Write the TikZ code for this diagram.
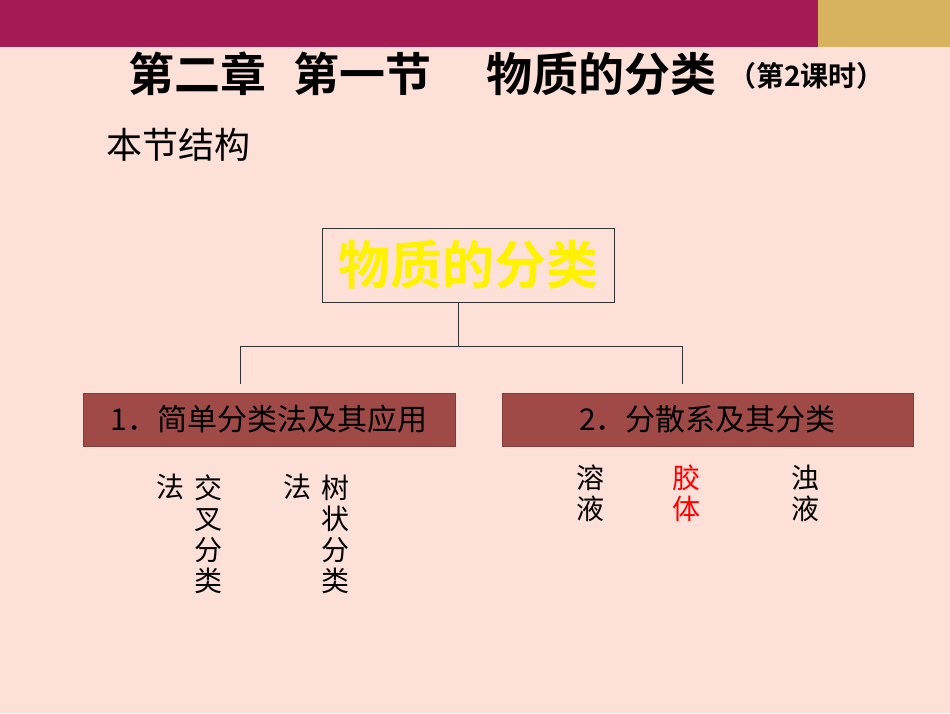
\documentclass[tikz,border=0pt]{standalone}
\usepackage{fontspec}
\newfontfamily\cjk{Noto Sans CJK SC}
\newfontfamily\cjkb{Noto Sans CJK SC Bold}
\definecolor{bg}{HTML}{FDE0D7}
\definecolor{mag}{HTML}{A61B53}
\definecolor{gold}{HTML}{D8B35F}
\definecolor{brn}{HTML}{A04A48}
\tikzset{ch/.style={font=\cjk\fontsize{28}{28}\selectfont,inner sep=0pt},
 cat/.style={fill=brn,draw=brn!80!black,minimum height=53pt,inner sep=0pt,font=\cjk\fontsize{30}{30}\selectfont},
 tt/.style={anchor=west,inner sep=0pt,font=\cjkb\fontsize{46}{46}\selectfont},
 conn/.style={draw=black!80,line width=0.8pt}}
\begin{document}
\begin{tikzpicture}[x=1pt,y=-1pt]
\fill[bg] (0,0) rectangle (950,713);
\useasboundingbox (0,0) rectangle (950,713);
\fill[mag] (0,0) rectangle (818,47);
\fill[gold] (818,0) rectangle (950,47);
\node[tt] (t) at (128,74) {第二章};
\node[tt] (tb) at (293,74) {第一节};
\node[tt] (tc) at (486,74) {物质的分类};
\node[anchor=west,inner sep=0pt,font=\cjkb\fontsize{28}{28}\selectfont] (t2) at (728,76) {（第2课时）};
\node[anchor=west,inner sep=0pt,font=\cjk\fontsize{36}{36}\selectfont] (s) at (106,145) {本节结构};
\node[draw=black!80,line width=0.8pt,minimum width=292pt,minimum height=74pt,inner sep=0pt,font=\cjkb\fontsize{52}{52}\selectfont,text=yellow] (root) at (468,265) {物质的分类};
\node[cat,minimum width=372pt] (a) at (269,419.5) {1．简单分类法及其应用};
\node[cat,minimum width=411pt] (b) at (707.5,419.5) {2．分散系及其分类};
\coordinate (m) at (458,346);
\coordinate (l) at (240,346);
\coordinate (r) at (682,346);
\draw[conn] (458,302) -- (m);
\draw[conn] (l) -- (r);
\draw[conn] (l) -- (240,384);
\draw[conn] (r) -- (682,384);
\node[ch] (f1) at (170,487) {法};
\node[ch,align=center] (c1) at (208,534) {交\\[3pt]叉\\[3pt]分\\[3pt]类};
\node[ch] (f2) at (297,487) {法};
\node[ch,align=center] (c2) at (335,534) {树\\[3pt]状\\[3pt]分\\[3pt]类};
\node[ch,align=center] (d1) at (590,493) {溶\\[3pt]液};
\node[ch,align=center,text=red] (d2) at (686,493) {胶\\[3pt]体};
\node[ch,align=center] (d3) at (805,493) {浊\\[3pt]液};
\end{tikzpicture}
\end{document}
